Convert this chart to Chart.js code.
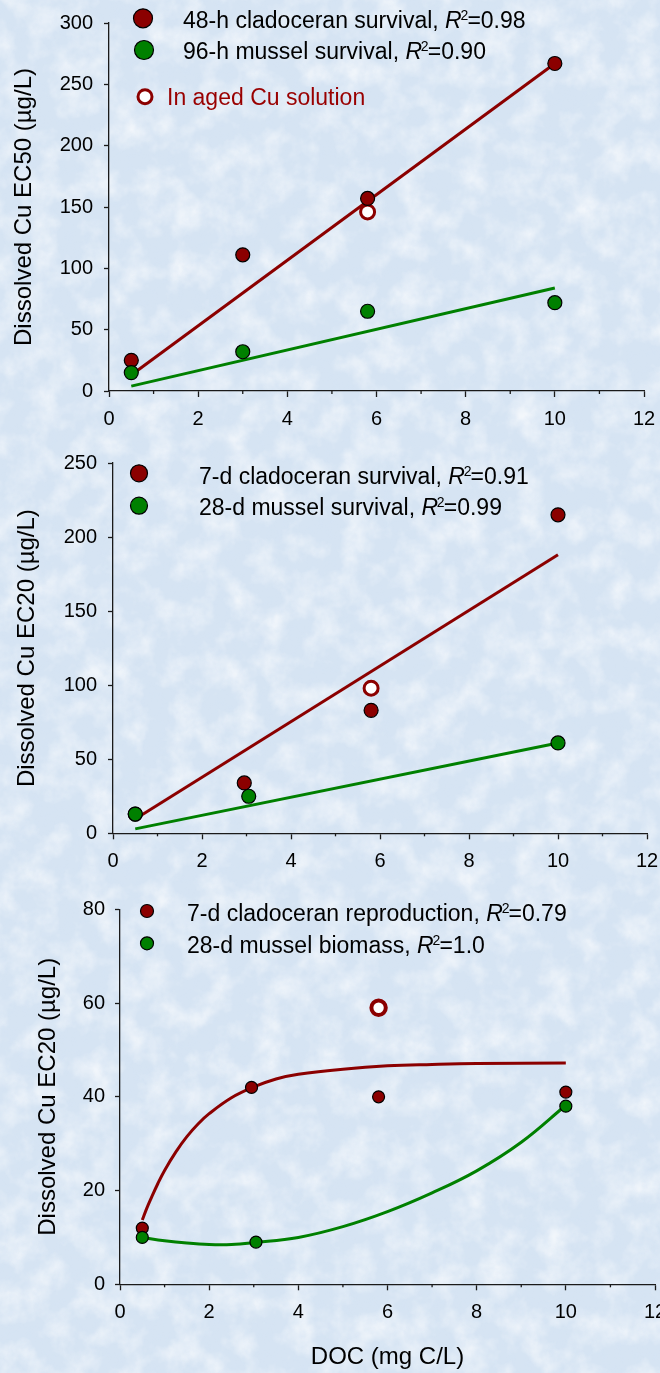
<!DOCTYPE html>
<html>
<head>
<meta charset="utf-8">
<title>Dissolved Cu EC50 / EC20 vs DOC</title>
<script src="https://cdn.jsdelivr.net/npm/chart.js@4.4.1/dist/chart.umd.min.js"></script>
<style>
  html, body { margin: 0; padding: 0; width: 660px; height: 1373px; overflow: hidden; }
  body { background-color: #d6e4f3; position: relative; }
  canvas { position: absolute; left: 0; }
</style>
</head>
<body>
<canvas id="chart-ec50-survival" width="674" height="440" style="top:0"></canvas>
<canvas id="chart-ec20-survival" width="677" height="440" style="top:440px"></canvas>
<canvas id="chart-ec20-sublethal" width="685" height="493" style="top:880px"></canvas>
<script>
// shared x axis: DOC (mg C/L)
const docTicks = [0, 2, 4, 6, 8, 10, 12];
const docMinorTicks = [1, 3, 5, 7, 9, 11];

// top: 48-h / 96-h survival EC50
const ec50Ticks = [0, 50, 100, 150, 200, 250, 300];
const docTop = [0.5, 3, 5.8, 10];
const cladoceran48h = [25, 111, 157, 267];
const mussel96h = [15, 32, 65, 72];
const agedDocTop = [5.8];
const agedEc50Top = [146];
const fitDocTop = [0.5, 10];
const fitCladoceran48h = [13, 267];
const fitMussel96h = [4, 84];

// middle: 7-d / 28-d survival EC20
const ec20SurvTicks = [0, 50, 100, 150, 200, 250];
const docClado = [0.5, 2.95, 5.8, 10];
const docMussel = [0.5, 3.05, 10];
const cladoceran7dSurv = [13, 34, 83, 215];
const mussel28dSurv = [13, 25, 61];
const agedDocMid = [5.8];
const agedEc20Mid = [98];
const fitDocMid = [0.5, 10];
const fitCladoceran7dSurv = [9.6, 188];
const fitMussel28dSurv = [3, 61];

// bottom: reproduction / biomass EC20
const ec20SubTicks = [0, 20, 40, 60, 80];
const cladoceran7dRepro = [12, 42, 40, 41];
const mussel28dBiomass = [10, 9, 38];
const agedDocLow = [5.8];
const agedEc20Low = [59];
const curveDocRepro = [0.5, 0.6, 0.7, 0.85, 1, 1.25, 1.5, 1.75, 2, 2.5, 3, 3.5, 4, 5, 6, 7, 8, 10];
const curveCladoceranRepro = [13.7, 16.2, 18.4, 21.5, 24.3, 28.2, 31.5, 34.2, 36.4, 39.8, 42.1, 43.8, 44.8, 45.9, 46.6, 46.9, 47.1, 47.2];
const curveDocBiomass = [0.5, 1, 1.5, 2, 2.5, 3, 4, 5, 6, 7, 8, 9, 10];
const curveMusselBiomass = [10, 9.3, 8.8, 8.5, 8.5, 8.9, 10, 12.3, 15.5, 19.5, 24.2, 30.3, 38.2];

const cladoRed = '#8b0000';
const musselGreen = '#008000';
const axisColor = '#1a1a1a';
const fontFamily = "'Liberation Sans', Arial, Helvetica, sans-serif";

// mottled paper texture behind the plots
function paperTexture() {
    const svg = "<svg xmlns='http://www.w3.org/2000/svg' width='660' height='1373'>" +
        "<filter id='a'><feTurbulence type='fractalNoise' baseFrequency='0.035' numOctaves='4' seed='7'/>" +
        "<feColorMatrix values='0 0 0 0 1  0 0 0 0 1  0 0 0 0 1  0 0 0 1.3 -0.52'/></filter>" +
        "<filter id='b'><feTurbulence type='fractalNoise' baseFrequency='0.12' numOctaves='3' seed='3'/>" +
        "<feColorMatrix values='0 0 0 0 0.66  0 0 0 0 0.77  0 0 0 0 0.91  0 0 0 1.4 -0.58'/></filter>" +
        "<rect width='100%' height='100%' filter='url(#a)'/>" +
        "<rect width='100%' height='100%' filter='url(#b)' opacity='0.4'/></svg>";
    document.body.style.backgroundImage = 'url("data:image/svg+xml,' + encodeURIComponent(svg) + '")';
}
paperTexture();

function pairs(xs, ys) {
    return xs.map((x, i) => ({ x: x, y: ys[i] }));
}

function pointSet(label, xs, ys, color, r, order) {
    return {
        label: label,
        data: pairs(xs, ys),
        backgroundColor: color,
        borderColor: '#000',
        borderWidth: 1.2,
        pointRadius: r,
        pointHoverRadius: r,
        showLine: false,
        order: order
    };
}

function agedSet(xs, ys, r, bw) {
    return {
        label: 'In aged Cu solution',
        data: pairs(xs, ys),
        backgroundColor: '#ffffff',
        borderColor: cladoRed,
        borderWidth: bw,
        pointRadius: r,
        pointHoverRadius: r,
        showLine: false,
        order: 2
    };
}

function fitSet(label, xs, ys, color, smooth) {
    return {
        label: label,
        data: pairs(xs, ys),
        showLine: true,
        borderColor: color,
        borderWidth: 3,
        pointRadius: 0,
        fill: false,
        tension: smooth ? 0.4 : 0,
        order: 3
    };
}

// text with italic R and superscript 2, vertically centred on y
function drawRich(ctx, x, y, parts, size, color) {
    const base = y + size * 0.36;
    let cx = x;
    ctx.fillStyle = color;
    ctx.textBaseline = 'alphabetic';
    ctx.textAlign = 'left';
    parts.forEach(p => {
        if (p.sup) {
            const s = Math.round(size * 0.62);
            ctx.font = s + 'px ' + fontFamily;
            cx -= size * 0.05;
            ctx.fillText(p.text, cx, base - size * 0.36);
            cx += ctx.measureText(p.text).width - size * 0.04;
        } else {
            ctx.font = (p.italic ? 'italic ' : '') + size + 'px ' + fontFamily;
            ctx.fillText(p.text, cx, base);
            cx += ctx.measureText(p.text).width;
        }
    });
}

function r2Parts(prefix, value) {
    return [{ text: prefix }, { text: 'R', italic: true }, { text: '2', sup: true }, { text: '=' + value }];
}

// minor x ticks and the in-plot legend
const panelDecor = {
    id: 'panelDecor',
    afterDraw(chart, args, opts) {
        const ctx = chart.ctx;
        const xs = chart.scales.x;
        const bottom = chart.chartArea.bottom;
        ctx.save();
        ctx.strokeStyle = axisColor;
        ctx.lineWidth = 1.3;
        docMinorTicks.forEach(v => {
            const px = xs.getPixelForValue(v);
            ctx.beginPath();
            ctx.moveTo(px, bottom);
            ctx.lineTo(px, bottom + 3);
            ctx.stroke();
        });

        (opts.rows || []).forEach(row => {
            ctx.beginPath();
            ctx.arc(row.mx, row.my, row.r, 0, Math.PI * 2);
            if (row.open) {
                ctx.fillStyle = '#ffffff';
                ctx.fill();
                ctx.lineWidth = row.bw;
                ctx.strokeStyle = cladoRed;
                ctx.stroke();
            } else {
                ctx.fillStyle = row.color;
                ctx.fill();
                ctx.lineWidth = 1.2;
                ctx.strokeStyle = '#000';
                ctx.stroke();
            }
            drawRich(ctx, row.tx, row.ty, row.parts, 23, row.textColor || '#000');
        });
        ctx.restore();
    }
};

function buildPanel(id, p) {
    const tickFont = { family: fontFamily, size: 20 };
    const titleFont = { family: fontFamily, size: 24 };
    return new Chart(document.getElementById(id), {
        type: 'scatter',
        data: { datasets: p.datasets },
        options: {
            responsive: false,
            animation: false,
            events: [],
            layout: { padding: { top: p.area.top, right: p.padRight, left: 0, bottom: 0 } },
            plugins: {
                legend: { display: false },
                tooltip: { enabled: false },
                panelDecor: { rows: p.legend }
            },
            scales: {
                x: {
                    type: 'linear',
                    min: docTicks[0],
                    max: docTicks[docTicks.length - 1],
                    afterBuildTicks: s => { s.ticks = docTicks.map(v => ({ value: v })); },
                    afterFit: s => { s.height = p.xHeight; },
                    ticks: { font: tickFont, color: '#000', padding: 10, maxRotation: 0, autoSkip: false },
                    grid: { drawOnChartArea: false, tickLength: 6, tickColor: axisColor, tickWidth: 1.3 },
                    border: { color: axisColor, width: 1.3 },
                    title: p.xTitle
                        ? { display: true, text: p.xTitle, font: titleFont, color: '#000', padding: { top: 0, bottom: 1 } }
                        : { display: false }
                },
                y: {
                    type: 'linear',
                    min: p.yTicks[0],
                    max: p.yTicks[p.yTicks.length - 1],
                    afterBuildTicks: s => { s.ticks = p.yTicks.map(v => ({ value: v })); },
                    afterFit: s => { s.width = p.area.left; },
                    ticks: { font: tickFont, color: '#000', padding: p.yPad, autoSkip: false },
                    grid: { drawOnChartArea: false, tickLength: 5, tickColor: axisColor, tickWidth: 1.3 },
                    border: { color: axisColor, width: 1.3 },
                    title: { display: true, text: p.yTitle, font: titleFont, color: '#000', padding: { top: p.yTitlePad, bottom: 0 } }
                }
            }
        },
        plugins: [panelDecor]
    });
}

buildPanel('chart-ec50-survival', {
    area: { left: 109, top: 15 },
    padRight: 30,
    xHeight: 49,
    yPad: 11,
    yTitlePad: 9.6,
    yTicks: ec50Ticks,
    yTitle: 'Dissolved Cu EC50 (µg/L)',
    datasets: [
        pointSet('96-h mussel survival', docTop, mussel96h, musselGreen, 7, 0),
        pointSet('48-h cladoceran survival', docTop, cladoceran48h, cladoRed, 7, 1),
        agedSet(agedDocTop, agedEc50Top, 7, 3),
        fitSet('48-h cladoceran fit', fitDocTop, fitCladoceran48h, cladoRed, false),
        fitSet('96-h mussel fit', fitDocTop, fitMussel96h, musselGreen, false)
    ],
    legend: [
        { mx: 143, my: 18.3, r: 9.5, color: cladoRed, tx: 183, ty: 20, parts: r2Parts('48-h cladoceran survival, ', '0.98') },
        { mx: 144, my: 50, r: 9.5, color: musselGreen, tx: 183, ty: 51, parts: r2Parts('96-h mussel survival, ', '0.90') },
        { mx: 145, my: 96.7, r: 7, open: true, bw: 3, tx: 167, ty: 96.5, textColor: '#990000', parts: [{ text: 'In aged Cu solution' }] }
    ]
});

buildPanel('chart-ec20-survival', {
    area: { left: 113, top: 18.3 },
    padRight: 30,
    xHeight: 46.7,
    yPad: 11,
    yTitlePad: 13,
    yTicks: ec20SurvTicks,
    yTitle: 'Dissolved Cu EC20 (µg/L)',
    datasets: [
        pointSet('28-d mussel survival', docMussel, mussel28dSurv, musselGreen, 7, 0),
        pointSet('7-d cladoceran survival', docClado, cladoceran7dSurv, cladoRed, 7, 1),
        agedSet(agedDocMid, agedEc20Mid, 7, 3),
        fitSet('7-d cladoceran fit', fitDocMid, fitCladoceran7dSurv, cladoRed, false),
        fitSet('28-d mussel fit', fitDocMid, fitMussel28dSurv, musselGreen, false)
    ],
    legend: [
        { mx: 139, my: 33.3, r: 8.5, color: cladoRed, tx: 199, ty: 36, parts: r2Parts('7-d cladoceran survival, ', '0.91') },
        { mx: 139, my: 65.7, r: 8.5, color: musselGreen, tx: 199, ty: 66.7, parts: r2Parts('28-d mussel survival, ', '0.99') }
    ]
});

buildPanel('chart-ec20-sublethal', {
    area: { left: 120, top: 29.3 },
    padRight: 30,
    xHeight: 88.7,
    yPad: 10,
    yTitlePad: 33.6,
    yTicks: ec20SubTicks,
    yTitle: 'Dissolved Cu EC20 (µg/L)',
    xTitle: 'DOC (mg C/L)',
    datasets: [
        pointSet('28-d mussel biomass', docMussel, mussel28dBiomass, musselGreen, 6, 0),
        pointSet('7-d cladoceran reproduction', docClado, cladoceran7dRepro, cladoRed, 6, 1),
        agedSet(agedDocLow, agedEc20Low, 7.2, 4),
        fitSet('7-d cladoceran fit', curveDocRepro, curveCladoceranRepro, cladoRed, true),
        fitSet('28-d mussel fit', curveDocBiomass, curveMusselBiomass, musselGreen, true)
    ],
    legend: [
        { mx: 147, my: 31, r: 6.5, color: cladoRed, tx: 187, ty: 32.7, parts: r2Parts('7-d cladoceran reproduction, ', '0.79') },
        { mx: 147, my: 63.3, r: 6.5, color: musselGreen, tx: 187, ty: 65, parts: r2Parts('28-d mussel biomass, ', '1.0') }
    ]
});
</script>
</body>
</html>
